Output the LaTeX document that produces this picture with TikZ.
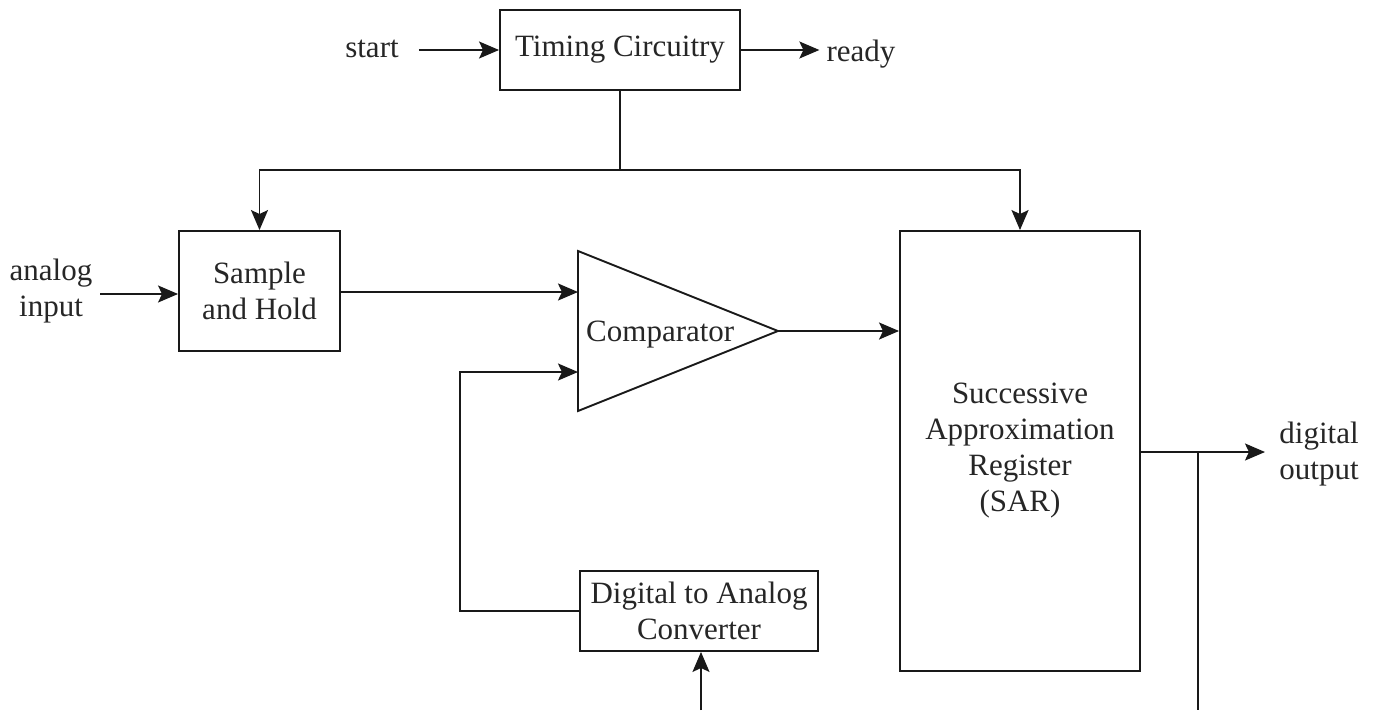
\documentclass[tikz,border=0pt]{standalone}
\usepackage{fontspec}
\setmainfont{Liberation Serif}
\usetikzlibrary{arrows.meta}
\begin{document}
\begin{tikzpicture}[x=1pt,y=-1pt,
  txt/.style={font=\fontsize{31}{36}\selectfont, text=black!85},
  box/.style={draw=black!90, line width=1.9pt, inner sep=0pt, align=center, fill=white, txt},
  lbl/.style={inner sep=0pt, align=center, txt},
  conn/.style={line width=1.9pt, draw=black!90},
  arr/.style={conn, -{Stealth[length=20pt,width=17pt,inset=4pt]}}]
\useasboundingbox (0,0) rectangle (1374,710);

% blocks
\node[box, minimum width=240pt, minimum height=80pt] (tc) at (620,50) {Timing Circuitry};
\node[box, minimum width=161pt, minimum height=120pt] (sh) at (259.5,291) {Sample\\and Hold};
\node[box, minimum width=240pt, minimum height=440pt] (sar) at (1020,451) {Successive\\Approximation\\Register\\(SAR)};
\node[box, minimum width=238pt, minimum height=80pt] (dac) at (699,611) {Digital to Analog\\Converter};

% comparator
\coordinate (c1) at (578,251);
\coordinate (c2) at (578,411);
\coordinate (c3) at (778,331);
\draw[conn, fill=white] (c1) -- (c3) -- (c2) -- cycle;
\node[lbl, anchor=west] (cmp) at (586,335) {Comparator};
\coordinate (cin1) at (578,292);
\coordinate (cin2) at (578,372);

% labels
\node[lbl] (start) at (372,49) {start};
\node[lbl] (ready) at (861,54) {ready};
\node[lbl] (ai) at (51,291) {analog\\input};
\node[lbl] (do) at (1319,454) {digital\\output};

% timing connectors
\draw[arr] ([xshift=20pt]start.east |- tc.west) -- (tc.west);
\draw[arr] (tc.east) -- ([xshift=-7pt]ready.west |- tc.east);
\coordinate (j1) at (620,170);
\draw[conn] (tc.south) -- (j1);
\draw[arr] (j1) -| (sh.north);
\draw[arr] (j1) -| (sar.north);

% signal path
\coordinate (ain) at (100,294);
\draw[arr] (ain) -- (ain -| sh.west);
\draw[arr] (sh.east |- cin1) -- (cin1);
\draw[arr] (c3) -- (c3 -| sar.west);
\coordinate (fb) at (460,372);
\draw[arr] (dac.west) -| (fb) -- (cin2);

% output
\coordinate (dout) at (1265,452);
\draw[arr] (sar.east |- dout) -- (dout);
\coordinate (br) at (1198,452);
\coordinate (bb) at (1198,710);
\draw[conn] (br) -- (bb);
\coordinate (db) at (701,710);
\draw[arr] (db) -- (db |- dac.south);
\end{tikzpicture}
\end{document}
